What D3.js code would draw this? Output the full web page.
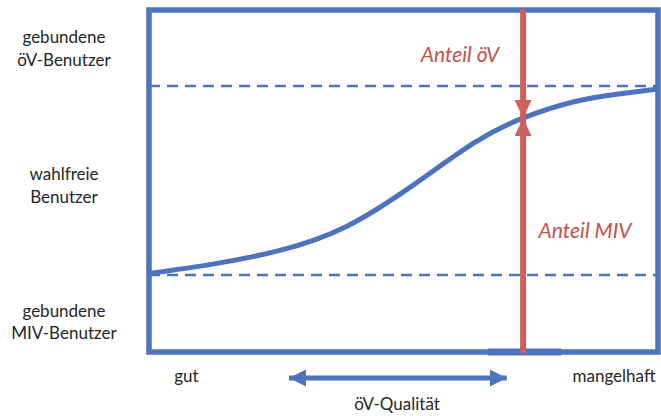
<!DOCTYPE html>
<html>
<head>
<meta charset="utf-8">
<script src="https://cdn.jsdelivr.net/npm/d3@7"></script>
<style>
  html, body { margin: 0; padding: 0; background: #fff; }
  svg { display: block; }
  text { font-family: Lato, "Open Sans", sans-serif; }
</style>
</head>
<body>
<svg id="chart" width="661" height="416"></svg>
<script>
// ---- data ----
// x: öV-Qualität (0 = gut, 100 = mangelhaft); y: share on a 0..100 scale of the frame
const curveX = [0, 12.5, 25.7, 38.9, 51.9, 63.7, 73.3, 83.3, 91.5, 100];
const curveY = [22.95, 25.7, 29.7, 36.8, 48.8, 61.0, 68.3, 73.1, 75.3, 76.9];
const boundLevels = [22.5, 77.8];          // dashed boundaries of captive users
const markerX = 73.5;                      // position of the "Anteil" arrows
const markerY = 68.4;                      // curve value at the marker
const qualityRange = [27.5, 70.3];         // double arrow along the x axis
const rowLabels = [
  { y: 90, lines: ["gebundene", "öV-Benutzer"] },
  { y: 50, lines: ["wahlfreie", "Benutzer"] },
  { y: 10, lines: ["gebundene", "MIV-Benutzer"] }
];
const xEndLabels = ["gut", "mangelhaft"];
const xTitle = "öV-Qualität";
const shareLabels = ["Anteil öV", "Anteil MIV"];

// ---- setup ----
const blue = "#4e73be", redLine = "#cf5f5b", redText = "#c4504c", ink = "#262626";
const svg = d3.select("#chart");
const frame = { left: 149, right: 658, top: 10, bottom: 352 };
const x = d3.scaleLinear().domain([0, 100]).range([frame.left, frame.right]);
const y = d3.scaleLinear().domain([0, 100]).range([frame.bottom, frame.top]);

const defs = svg.append("defs");
function head(id, color, w, l) {
  defs.append("marker").attr("id", id)
    .attr("viewBox", `0 0 ${l} ${w}`).attr("refX", l).attr("refY", w / 2)
    .attr("markerWidth", l).attr("markerHeight", w)
    .attr("markerUnits", "userSpaceOnUse").attr("orient", "auto-start-reverse")
    .append("path").attr("d", `M0,0 L${l},${w/2} L0,${w} Z`).attr("fill", color);
}
head("redHead", redLine, 17, 18);
head("blueHead", blue, 17, 17);

// dashed boundaries
svg.selectAll("line.bound").data(boundLevels).join("line").attr("class", "bound")
  .attr("x1", x(0)).attr("x2", x(100))
  .attr("y1", d => y(d)).attr("y2", d => y(d))
  .attr("stroke", blue).attr("stroke-width", 2.5).attr("stroke-dasharray", "11,7");

// frame
svg.append("rect")
  .attr("x", x(0)).attr("y", y(100)).attr("width", x(100) - x(0)).attr("height", y(0) - y(100))
  .attr("fill", "none").attr("stroke", blue).attr("stroke-width", 5.5);
// highlighted segment of bottom edge
svg.append("line")
  .attr("x1", x(66.6)).attr("x2", x(81)).attr("y1", y(0)).attr("y2", y(0))
  .attr("stroke", blue).attr("stroke-width", 7);

// S-curve
const pts = curveX.map((d, i) => [d, curveY[i]]);
svg.append("path").datum(pts)
  .attr("d", d3.line().x(d => x(d[0])).y(d => y(d[1])).curve(d3.curveNatural))
  .attr("fill", "none").attr("stroke", blue).attr("stroke-width", 5).attr("stroke-linecap", "butt");

// red arrows
svg.append("line")
  .attr("x1", x(markerX)).attr("x2", x(markerX)).attr("y1", y(100) - 1).attr("y2", y(markerY))
  .attr("stroke", redLine).attr("stroke-width", 6).attr("marker-end", "url(#redHead)");
svg.append("line")
  .attr("x1", x(markerX)).attr("x2", x(markerX)).attr("y1", y(0) + 1).attr("y2", y(markerY))
  .attr("stroke", redLine).attr("stroke-width", 6).attr("marker-end", "url(#redHead)");

// share labels
svg.append("text").attr("x", 460).attr("y", 62).attr("text-anchor", "middle")
  .attr("font-style", "italic").attr("font-size", 21).attr("fill", redText).text(shareLabels[0]);
svg.append("text").attr("x", 585).attr("y", 238).attr("text-anchor", "middle")
  .attr("font-style", "italic").attr("font-size", 21).attr("fill", redText).text(shareLabels[1]);

// row labels on the left
rowLabels.forEach(r => {
  const t = svg.append("text").attr("text-anchor", "middle").attr("font-size", 17).attr("fill", ink);
  r.lines.forEach((ln, i) => {
    t.append("tspan").attr("x", 64).attr("y", y(r.y) + (i === 0 ? -1 : 21.5)).text(ln);
  });
});

// x axis labels
svg.append("text").attr("x", 186.5).attr("y", 382).attr("text-anchor", "middle")
  .attr("font-size", 17).attr("fill", ink).text(xEndLabels[0]);
svg.append("text").attr("x", 614).attr("y", 382).attr("text-anchor", "middle")
  .attr("font-size", 17).attr("fill", ink).text(xEndLabels[1]);
svg.append("text").attr("x", 397).attr("y", 410).attr("text-anchor", "middle")
  .attr("font-size", 17).attr("fill", ink).text(xTitle);

// double arrow for öV-Qualität
svg.append("line")
  .attr("x1", x(qualityRange[0])).attr("x2", x(qualityRange[1])).attr("y1", 378).attr("y2", 378)
  .attr("stroke", blue).attr("stroke-width", 5)
  .attr("marker-start", "url(#blueHead)").attr("marker-end", "url(#blueHead)");
</script>
</body>
</html>
